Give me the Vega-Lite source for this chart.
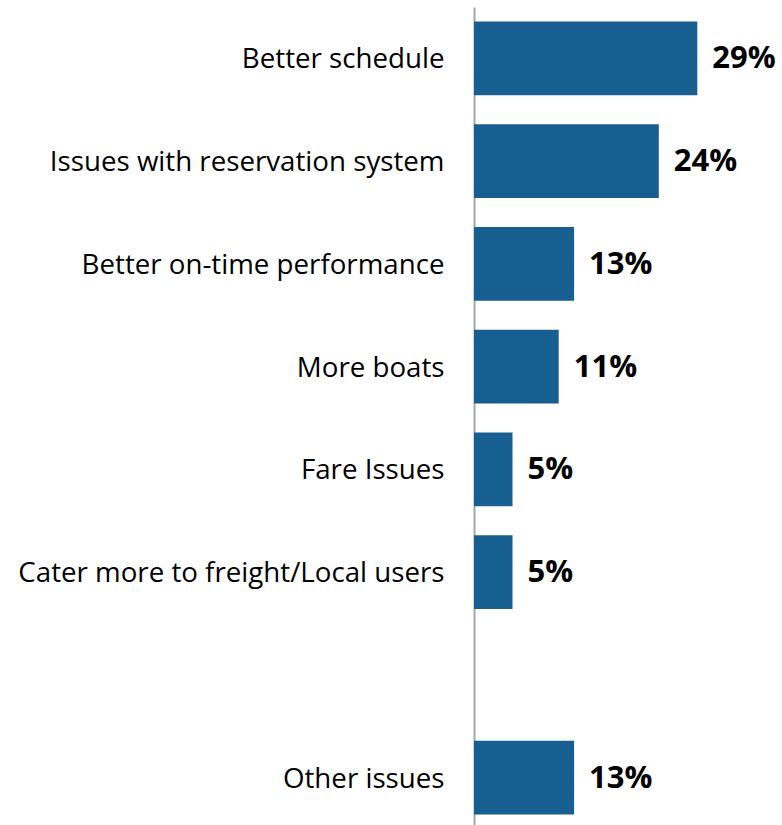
{
  "$schema": "https://vega.github.io/schema/vega-lite/v6.json",
  "autosize": {"type": "none"},
  "padding": {"left": 474, "top": 7, "right": 0, "bottom": 0},
  "width": 308,
  "height": 822,
  "background": "white",
  "config": {"view": {"stroke": null}, "font": "Open Sans"},
  "data": {
    "values": [
      {"category": "Better schedule", "pct": 29, "label": "29%"},
      {"category": "Issues with reservation system", "pct": 24, "label": "24%"},
      {"category": "Better on-time performance", "pct": 13, "label": "13%"},
      {"category": "More boats", "pct": 11, "label": "11%"},
      {"category": "Fare Issues", "pct": 5, "label": "5%"},
      {"category": "Cater more to freight/Local users", "pct": 5, "label": "5%"},
      {"category": "Other issues", "pct": 13, "label": "13%"}
    ]
  },
  "encoding": {
    "y": {
      "field": "category",
      "type": "nominal",
      "scale": {
        "domain": ["Better schedule", "Issues with reservation system", "Better on-time performance", "More boats", "Fare Issues", "Cater more to freight/Local users", " ", "Other issues"],
        "paddingInner": 0.284,
        "paddingOuter": 0.142
      },
      "axis": {
        "title": null,
        "ticks": false,
        "labelFontSize": 27.7,
        "labelColor": "#000000",
        "labelPadding": 30,
        "labelOffset": 2,
        "labelLimit": 600,
        "domainColor": "#a6a6a6",
        "domainWidth": 2
      }
    },
    "x": {
      "field": "pct",
      "type": "quantitative",
      "scale": {"domain": [0, 40]},
      "axis": null
    }
  },
  "layer": [
    {"mark": {"type": "bar", "color": "#175f91"}},
    {
      "mark": {"type": "text", "align": "left", "baseline": "middle", "dx": 15, "dy": 1, "fontSize": 31, "fontWeight": "bold", "color": "#000000"},
      "encoding": {"text": {"field": "label"}}
    }
  ]
}
